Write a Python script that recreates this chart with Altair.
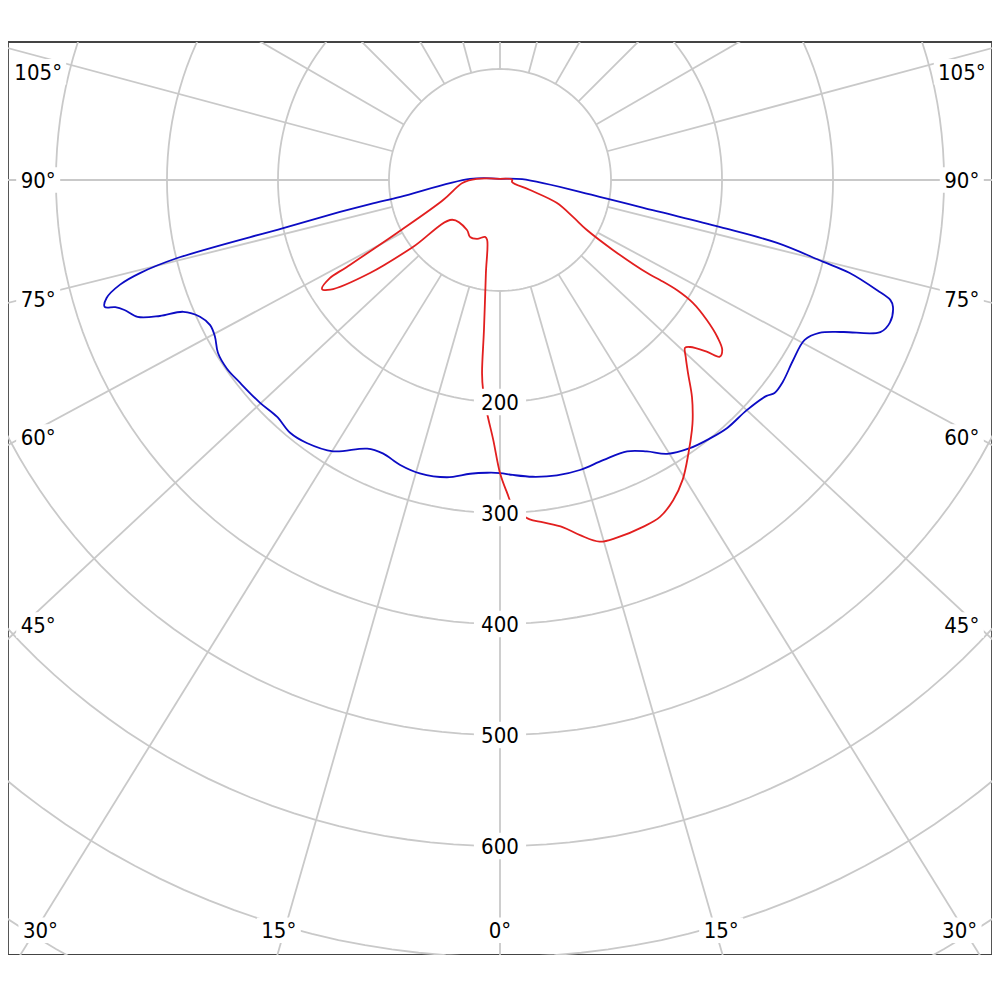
import altair as alt
import pandas as pd

# ---- photometric data (angle in degrees, negative = left half; intensity in cd) ----
blue_angle = [-180, -92, -80.4, -79.5, -78.7, -77.5, -76.4, -75.5, -74.6, -73.3, -72.2, -71.7,
              -70.9, -69.3, -68.2, -67.4, -65.5, -63.4, -61.2, -58.5, -55.4, -52.0, -47.1, -43.3,
              -39.7, -36.3, -31.6, -26.3, -23.2, -19.3, -15.3, -10.1, -5.8, -2.5, 0, 2.5, 6.3,
              10.9, 15.4, 20.2, 25.1, 28.4, 31.4, 35.3, 39.1, 42.5, 47.0, 51.0, 52.2, 54.5, 58.4,
              62.3, 64.4, 66.1, 68.2, 69.9, 72.1, 72.9, 73.7, 75.1, 75.8, 77.2, 77.9, 78.7, 80.4,
              92, 180]
blue_cd = [1, 27, 91, 119, 147, 200, 299, 335, 355, 370, 374, 365,
           358, 349, 330, 309, 297, 292, 293, 298, 299, 297, 295, 293,
           296, 294, 287, 270, 268, 272, 274, 272, 266, 264, 264, 266, 269,
           271, 271, 269, 270, 278, 289, 296, 300, 303, 304, 309, 313, 313, 310,
           310, 319, 338, 369, 374, 372, 368, 354, 326, 300, 256, 203, 147, 91,
           20, 1]

red_angle = [-180, -92.5, -85.5, -80.8, -70.7, -62.8, -60.4, -60.0, -58.5, -57.1, -54.4, -52.4,
             -50.2, -33.4, -27.8, -21.3, -14.7, -12.2, -8.6, -6.1, -5.3, -4.6, -3.2, -1.5, 0,
             1.3, 2.3, 3.9, 5.0, 7.2, 10.3, 12.7, 15.4, 18.1, 22.4, 25.4, 28.4, 31.4, 34.6, 37.5,
             38.8, 41.5, 44.2, 46.4, 47.8, 48.7, 50.3, 51.2, 52.6, 54.1, 55.9, 57.5, 58.1, 58.0,
             57.7, 58.2, 60.1, 63.1, 68.0, 71.6, 80.5, 92, 180]
red_cd = [1, 21, 34, 39, 54, 104, 159, 177, 188, 182, 144, 99,
          56, 54, 58, 57, 53, 55, 85, 136, 175, 190, 210, 234, 264,
          282, 295, 303, 307, 311, 318, 328, 338, 339, 338, 336, 328, 316, 299, 284,
          277, 261, 243, 231, 225, 228, 242, 254, 252, 242, 225, 206, 188, 170,
          157, 120, 90, 74, 55, 28, 11, 11, 1]

ring_values = [100, 200, 300, 400, 500, 600, 700, 800]
ring_labels = [200, 300, 400, 500, 600]
spoke_angles = list(range(-165, 181, 15))
angle_labels = [-105, -90, -75, -60, -45, -30, -15, 0, 15, 30, 45, 60, 75, 90, 105]

FONT = "DejaVu Sans Condensed, Noto Sans, sans-serif"
GRID = "#c9c9c9"

XS = alt.Scale(domain=[-443.2, 443.2], nice=False, zero=False)
YS = alt.Scale(domain=[-698.2, 124.3], nice=False, zero=False)


def X(f):
    return alt.X(f, type="quantitative", scale=XS, axis=None)


def Y(f):
    return alt.Y(f, type="quantitative", scale=YS, axis=None)


curves = pd.concat([
    pd.DataFrame({"angle": blue_angle, "cd": blue_cd, "plane": "C0-C180",
                  "i": list(range(len(blue_angle)))}),
    pd.DataFrame({"angle": red_angle, "cd": red_cd, "plane": "C90-C270",
                  "i": list(range(len(red_angle)))}),
], ignore_index=True)

rings_df = pd.DataFrame([{"ring": r, "t": t} for r in ring_values for t in range(0, 361, 2)])

rings = (
    alt.Chart(rings_df)
    .transform_calculate(x="datum.ring*sin(datum.t*PI/180)")
    .transform_calculate(y="-datum.ring*cos(datum.t*PI/180)")
    .mark_line(color=GRID, strokeWidth=1.8, clip=True)
    .encode(x=X("x"), y=Y("y"), detail="ring:N", order="t:Q")
)

spokes = (
    alt.Chart(pd.DataFrame({"angle": spoke_angles}))
    .transform_calculate(rad="datum.angle*PI/180")
    .transform_calculate(kk="cos(datum.rad) > 0.0001 ? 1.072 : 1")
    .transform_calculate(sx="datum.kk*sin(datum.rad)", sy="-cos(datum.rad)")
    .transform_calculate(n="sqrt(datum.sx*datum.sx + datum.sy*datum.sy)")
    .transform_calculate(x="100*datum.sx/datum.n", y="100*datum.sy/datum.n",
                         x2="1300*datum.sx/datum.n", y2="1300*datum.sy/datum.n")
    .mark_rule(color=GRID, strokeWidth=1.8, clip=True)
    .encode(x=X("x"), y=Y("y"), x2="x2:Q", y2="y2:Q")
)

lines = (
    alt.Chart(curves)
    .transform_calculate(x="datum.cd*sin(datum.angle*PI/180)",
                         y="-datum.cd*cos(datum.angle*PI/180)")
    .mark_line(strokeWidth=1.8, clip=True, interpolate="catmull-rom")
    .encode(
        x=X("x"), y=Y("y"),
        color=alt.Color("plane:N", scale=alt.Scale(domain=["C0-C180", "C90-C270"],
                                                  range=["#0c0cc4", "#e21f1f"]), legend=None),
        order="i:Q",
    )
)

ring_lab = alt.Chart(pd.DataFrame({"v": ring_labels})).transform_calculate(
    txt="'' + datum.v", x="0", y="-datum.v",
    bx1="-23.5", bx2="23.5", by1="-datum.v - 12", by2="-datum.v + 12")

ring_box = ring_lab.mark_rect(color="white").encode(
    x=X("bx1"), x2="bx2:Q", y=Y("by1"), y2="by2:Q")
ring_txt = ring_lab.mark_text(font=FONT, fontSize=22, color="#000000", align="center",
                              baseline="middle", dy=1).encode(x=X("x"), y=Y("y"), text="txt:N")

ang_lab = (
    alt.Chart(pd.DataFrame({"angle": angle_labels}))
    .transform_calculate(rad="abs(datum.angle)*PI/180",
                         s="datum.angle < 0 ? -1 : 1",
                         txt="abs(datum.angle) + '°'")
    .transform_calculate(side="abs(datum.angle) >= 45")
    .transform_calculate(
        x="datum.side ? datum.s*416 : datum.s*min(676*1.1*tan(datum.rad), 414)",
        y="datum.side ? -401*cos(datum.rad)/sin(datum.rad) - (abs(datum.angle) > 90 ? 10 : 0) : -676",
        hw="(length(datum.txt)*12 + 8)/2/1.11")
    .transform_calculate(bx1="datum.x - datum.hw", bx2="datum.x + datum.hw",
                         by1="datum.y - 11.5", by2="datum.y + 11.5")
)

ang_box = ang_lab.mark_rect(color="white").encode(
    x=X("bx1"), x2="bx2:Q", y=Y("by1"), y2="by2:Q")
ang_txt = ang_lab.mark_text(font=FONT, fontSize=22, color="#000000", align="center",
                            baseline="middle", dy=1).encode(x=X("x"), y=Y("y"), text="txt:N")

chart = (
    alt.layer(rings, spokes, lines, ring_box, ang_box, ring_txt, ang_txt)
    .properties(width=984, height=913, autosize="none",
                padding={"left": 0, "top": 34, "right": 0, "bottom": 0})
    .configure_view(stroke="#444444", strokeWidth=1.8)
)

chart.save("out.html", embed_options={"renderer": "svg", "actions": False})
